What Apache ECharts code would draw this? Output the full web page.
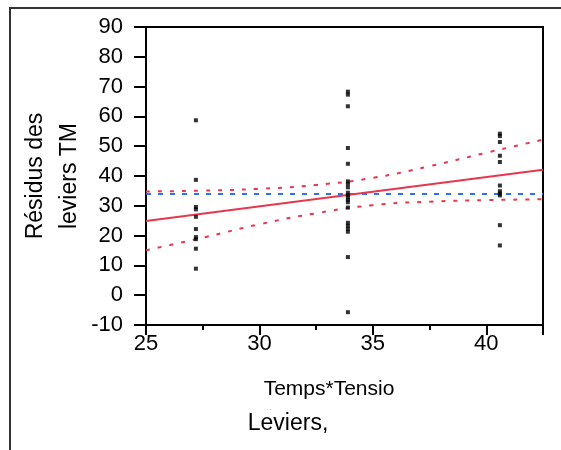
<!DOCTYPE html>
<html>
<head>
<meta charset="utf-8">
<script src="https://cdn.jsdelivr.net/npm/echarts@6/dist/echarts.min.js"></script>
<style>
  html, body { margin: 0; padding: 0; background: #fff; }
  #chart { width: 561px; height: 450px; }
</style>
</head>
<body>
<div id="chart"></div>
<script>
// x positions of the three groups
var xLevels = [27.2, 33.9, 40.6]
// residues per group
var group1 = [58.7, 38.7, 29.6, 28.8, 26.3, 22.2, 19.5, 18.8, 15.6, 8.9]
var group2 = [68.3, 67.3, 63.4, 49.4, 44.1, 38.2, 37.4, 36.2, 34.4, 33.6, 32.8, 32.0, 31.2, 29.4, 24.3, 23.3, 22.3, 21.3, 12.8, -5.7]
var group3 = [54.2, 53.4, 51.4, 46.8, 44.7, 36.8, 34.9, 34.1, 33.5, 23.5, 16.7]

// fitted line, mean line and confidence curves
var fitX = [25, 42.5]
var fitY = [24.9, 42.1]
var meanY = 34
var bandX = [25, 27.5, 30, 32.5, 35, 37.5, 40, 42.5]
var bandUpper = [34.8, 35.1, 35.7, 37.0, 39.4, 43.3, 47.8, 52.2]
var bandLower = [15.1, 19.3, 23.8, 27.5, 30.2, 31.4, 31.9, 32.2]

var xTicks = [25, 30, 35, 40]
var yMin = -10, yMax = 90

var points = []
;[group1, group2, group3].forEach(function (g, i) {
  g.forEach(function (v) { points.push([xLevels[i], v]) })
})

function pairs(xs, ys) {
  return xs.map(function (x, i) { return [x, ys[i]] })
}

var font = 'Arial, Liberation Sans, sans-serif'
var red = '#e8364e'
var blue = '#2f6ff0'

var chart = echarts.init(document.getElementById('chart'))

chart.setOption({
  animation: false,
  grid: { left: 146, top: 27, right: 18, bottom: 125 },
  xAxis: [{
    type: 'value',
    min: 25, max: 42.5, interval: 5,
    splitLine: { show: false },
    axisLine: { onZero: false, lineStyle: { color: '#000', width: 2 } },
    axisTick: { length: 10, lineStyle: { color: '#000', width: 2 } },
    minorTick: { show: true, splitNumber: 2, length: 5, lineStyle: { color: '#000', width: 2 } },
    axisLabel: {
      color: '#000', fontSize: 22, fontFamily: font, margin: 8,
      showMaxLabel: false,
      formatter: function (v) { return xTicks.indexOf(v) >= 0 ? String(v) : '' }
    }
  }, {
    type: 'value', position: 'top',
    min: 25, max: 42.5,
    splitLine: { show: false },
    axisLine: { show: true, onZero: false, lineStyle: { color: '#000', width: 2 } },
    axisTick: { show: false },
    axisLabel: { show: false }
  }],
  yAxis: [{
    type: 'value',
    min: yMin, max: yMax, interval: 10,
    splitLine: { show: false },
    axisLine: { onZero: false, lineStyle: { color: '#000', width: 2 } },
    axisTick: { length: 12, lineStyle: { color: '#000', width: 2 } },
    axisLabel: { color: '#000', fontSize: 22, fontFamily: font, margin: 23 }
  }, {
    type: 'value', position: 'right',
    min: yMin, max: yMax,
    splitLine: { show: false },
    axisLine: { show: true, onZero: false, lineStyle: { color: '#000', width: 2 } },
    axisTick: { show: false },
    axisLabel: { show: false }
  }],
  series: [
    {
      type: 'line', data: pairs(bandX, bandUpper), smooth: true, showSymbol: false,
      lineStyle: { color: red, width: 2, type: [4, 8] }, z: 2
    },
    {
      type: 'line', data: pairs(bandX, bandLower), smooth: true, showSymbol: false,
      lineStyle: { color: red, width: 2, type: [4, 8] }, z: 2
    },
    {
      type: 'line', data: [[fitX[0], meanY], [fitX[1], meanY]], showSymbol: false,
      lineStyle: { color: blue, width: 2, type: [5, 7] }, z: 2
    },
    {
      type: 'line', data: pairs(fitX, fitY), showSymbol: false,
      lineStyle: { color: red, width: 2 }, z: 3
    },
    {
      type: 'scatter', data: points, symbol: 'rect', symbolSize: 4,
      itemStyle: { color: '#000' }, z: 4
    }
  ],
  graphic: [
    // outer frame
    { type: 'polyline', shape: { points: [[10, 450], [10, 8], [561, 8]] },
      style: { stroke: '#333', lineWidth: 2, fill: null } },
    { type: 'text', x: 36, y: 176, rotation: Math.PI / 2,
      style: { text: 'Résidus des', font: '23px ' + font, fill: '#000', align: 'center', verticalAlign: 'middle' } },
    { type: 'text', x: 70, y: 176, rotation: Math.PI / 2,
      style: { text: 'leviers TM', font: '23px ' + font, fill: '#000', align: 'center', verticalAlign: 'middle' } },
    { type: 'text', x: 329, y: 389,
      style: { text: 'Temps*Tensio', font: '21px ' + font, fill: '#000', align: 'center', verticalAlign: 'middle' } },
    { type: 'text', x: 269, y: 410,
      style: { text: '- -', font: '5px ' + font, fill: '#999', align: 'center', verticalAlign: 'middle' } },
    { type: 'text', x: 288, y: 424,
      style: { text: 'Leviers,', font: '23px ' + font, fill: '#000', align: 'center', verticalAlign: 'middle' } }
  ]
})
</script>
</body>
</html>
